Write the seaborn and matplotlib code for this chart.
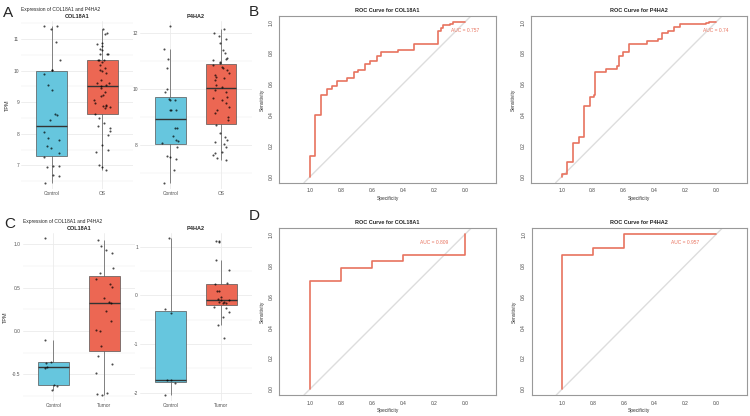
import numpy as np
import pandas as pd
import seaborn as sns
import matplotlib.pyplot as plt
from matplotlib.ticker import MultipleLocator

W, H = 750, 416

# ---- expression values (TPM) ----
a_col_control = [11.41, 11.41, 11.32, 10.92, 10.34, 10.02, 10.02, 9.89, 9.54, 9.39, 8.63, 8.59, 8.44,
                 8.04, 7.86, 7.80, 7.62, 7.54, 7.38, 7.25, 6.98, 6.98, 6.96, 6.70, 6.66, 6.45]
a_col_os = [11.32, 11.18, 11.15, 10.86, 10.83, 10.79, 10.67, 10.65, 10.54, 10.53, 10.51, 10.35, 10.34,
            10.34, 10.28, 10.18, 10.07, 10.02, 9.99, 9.93, 9.70, 9.60, 9.60, 9.54, 9.51, 9.44, 9.33,
            9.23, 9.18, 9.07, 8.96, 8.91, 8.88, 8.88, 8.86, 8.81, 8.62, 8.50, 8.35, 8.25, 8.17, 8.10,
            7.96, 7.65, 7.49, 7.43, 7.01, 6.96, 6.85]
a_p4_control = [12.26, 11.43, 11.07, 10.77, 10.0, 9.92, 9.65, 9.62, 9.62, 9.26, 9.26, 9.26, 8.63,
                8.61, 8.33, 8.19, 8.17, 8.07, 7.95, 7.63, 7.57, 7.50, 7.12, 6.67]
a_p4_os = [12.14, 12.0, 11.92, 11.79, 11.67, 11.40, 11.29, 11.11, 11.07, 11.05, 10.99, 10.93, 10.87,
           10.81, 10.75, 10.69, 10.60, 10.51, 10.45, 10.39, 10.33, 10.15, 10.10, 9.98, 9.92, 9.74,
           9.68, 9.62, 9.50, 9.38, 9.26, 9.14, 9.02, 8.90, 8.73, 8.43, 8.29, 8.19, 8.13, 8.05, 7.95,
           7.77, 7.71, 7.65, 7.54, 7.48]

c_col_control = [1.07, -0.10, -0.36, -0.37, -0.42, -0.43, -0.62, -0.63, -0.68]
c_col_tumor = [1.05, 0.985, 0.935, 0.904, 0.73, 0.673, 0.60, 0.54, 0.51, 0.38, 0.33, 0.327, 0.23,
               0.115, 0.012, 0.004, -0.169, -0.288, -0.38, -0.48, -0.72, -0.73, -0.74]
c_p4_control = [1.17, -0.29, -0.37, -1.73, -1.74, -1.81, -2.05]
c_p4_tumor = [1.12, 1.12, 1.10, 0.73, 0.52, 0.25, 0.23, 0.09, 0.09, -0.03, -0.08, -0.09, -0.10,
              -0.14, -0.14, -0.15, -0.16, -0.23, -0.25, -0.35, -0.45, -0.61, -0.88]

# ---- ROC curves (specificity, sensitivity) ----
b_col_spec = [1.0, 1.0, 0.968, 0.93, 0.89, 0.856, 0.824, 0.763, 0.714, 0.692, 0.645, 0.613, 0.57,
              0.54, 0.43, 0.327, 0.176, 0.155, 0.14, 0.095, 0.075, 0.0]
b_col_sens = [0.0, 0.13, 0.40, 0.53, 0.566, 0.587, 0.622, 0.637, 0.68, 0.69, 0.728, 0.75, 0.784,
              0.806, 0.82, 0.86, 0.946, 0.965, 0.983, 0.99, 1.0, 1.0]
b_p4_spec = [1.0, 1.0, 0.964, 0.927, 0.89, 0.857, 0.818, 0.79, 0.782, 0.711, 0.642, 0.632, 0.606,
             0.561, 0.45, 0.375, 0.347, 0.31, 0.272, 0.236, 0.064, 0.047, 0.0]
b_p4_sens = [0.0, 0.017, 0.093, 0.22, 0.259, 0.458, 0.514, 0.53, 0.68, 0.695, 0.713, 0.784, 0.806,
             0.86, 0.875, 0.892, 0.929, 0.946, 0.968, 0.985, 0.993, 1.0, 1.0]
d_col_spec = [1.0, 1.0, 0.8, 0.6, 0.4, 0.0]
d_col_sens = [0.0, 0.696, 0.783, 0.826, 0.870, 1.0]
d_p4_spec = [1.0, 1.0, 0.8, 0.6, 0.0]
d_p4_sens = [0.0, 0.870, 0.913, 1.0, 1.0]

BLUE = "#66C6DE"
RED = "#EC6753"
ROC_RED = "#E8735F"
GRID = "#EBEBEB"

np.random.seed(7)  # fixed horizontal jitter
sns.set_theme(style="white")
plt.rcParams["font.family"] = ["Liberation Sans", "DejaVu Sans"]

fig = plt.figure(figsize=(7.5, 4.16), dpi=100)


def px_axes(left, top, right, bottom):
    return fig.add_axes([left / W, 1 - bottom / H, (right - left) / W, (bottom - top) / H])


def box_panel(ax, groups, values, title, ylim, major, minor, fmt, ylabel=None):
    df = pd.DataFrame({"group": np.repeat(groups, [len(v) for v in values]),
                       "tpm": np.concatenate(values)})
    sns.boxplot(data=df, x="group", y="tpm", hue="group", palette=[BLUE, RED], width=0.6,
                saturation=1, showfliers=False, showcaps=False, linewidth=0.5,
                linecolor="#555555", legend=False,
                medianprops={"color": "#333333", "linewidth": 1.0}, ax=ax)
    sns.stripplot(data=df, x="group", y="tpm", color="black", size=1.5, alpha=0.7,
                  jitter=0.17, linewidth=0, ax=ax)
    ax.set_xlim(-0.6, 1.6)
    ax.set_ylim(*ylim)
    ax.yaxis.set_major_locator(MultipleLocator(major))
    ax.yaxis.set_minor_locator(MultipleLocator(minor))
    ax.yaxis.set_major_formatter(fmt)
    ax.grid(True, which="major", color=GRID, lw=0.6)
    ax.grid(True, which="minor", axis="y", color=GRID, lw=0.35)
    ax.set_axisbelow(True)
    for s in ax.spines.values():
        s.set_visible(False)
    ax.tick_params(which="both", length=0, labelsize=3.5, labelcolor="#555555", pad=1.5)
    ax.set_xlabel("")
    ax.set_ylabel(ylabel if ylabel else "", fontsize=4, color="#333333", labelpad=3)
    ax.set_title(title, fontsize=4, fontweight="bold", pad=2)


def roc_panel(ax, spec, sens, title, auc_text, auc_x):
    sns.lineplot(x=spec, y=sens, sort=False, estimator=None, color=ROC_RED, lw=1.2,
                 drawstyle="steps-post", ax=ax)
    ax.axline((1, 0), (0, 1), color="#DDDDDD", lw=1, zorder=0)
    ax.set_xlim(1.2, -0.2)
    ax.set_ylim(-0.04, 1.04)
    ticks = [1.0, 0.8, 0.6, 0.4, 0.2, 0.0]
    ax.set_xticks(ticks)
    ax.set_xticklabels([f"{t:.1f}" for t in ticks])
    ax.set_yticks(ticks)
    ax.set_yticklabels([f"{t:.1f}" for t in ticks], rotation=90, va="center")
    ax.tick_params(length=2, width=0.5, color="#888888", labelsize=3.5, labelcolor="#444444", pad=2)
    for s in ax.spines.values():
        s.set_color("#999999")
        s.set_linewidth(0.8)
    ax.set_xlabel("Specificity", fontsize=3.5, labelpad=2, color="#333333")
    ax.set_ylabel("Sensitivity", fontsize=3.5, labelpad=3, color="#333333")
    ax.set_title(title, fontsize=4, fontweight="bold", pad=3)
    ax.text(auc_x, 0.947, auc_text, color=ROC_RED, fontsize=3.5, ha="center", va="center")


int_fmt = lambda v, p: f"{v:.0f}"
one_fmt = lambda v, p: f"{v:.1f}"

# Panel A
box_panel(px_axes(21.3, 21, 132.7, 189), ["Control", "OS"], [a_col_control, a_col_os], "COL18A1",
          (6.25, 11.57), 1, 0.5, int_fmt, "TPM")
box_panel(px_axes(140, 21, 251.5, 189), ["Control", "OS"], [a_p4_control, a_p4_os], "P4HA2",
          (6.44, 12.44), 2, 1, int_fmt)
# Panel C
box_panel(px_axes(22.7, 233, 135, 401), ["Control", "Tumor"], [c_col_control, c_col_tumor], "COL18A1",
          (-0.808, 1.13), 0.5, 0.25, one_fmt, "TPM")
box_panel(px_axes(140, 233, 252, 401), ["Control", "Tumor"], [c_p4_control, c_p4_tumor], "P4HA2",
          (-2.17, 1.28), 1, 0.5, int_fmt)

# Panel B / D
roc_panel(px_axes(279.3, 16, 495.7, 182.7), b_col_spec, b_col_sens, "ROC Curve for COL18A1", "AUC = 0.757", 0.0)
roc_panel(px_axes(531, 16, 746.7, 182.7), b_p4_spec, b_p4_sens, "ROC Curve for P4HA2", "AUC = 0.74", 0.0)
roc_panel(px_axes(279.3, 228.3, 495.7, 395), d_col_spec, d_col_sens, "ROC Curve for COL18A1", "AUC = 0.809", 0.2)
roc_panel(px_axes(531.7, 228.3, 746.7, 395), d_p4_spec, d_p4_sens, "ROC Curve for P4HA2", "AUC = 0.957", 0.2)

# titles and panel letters
fig.text(20.7 / W, 1 - 10 / H, "Expression of COL18A1 and P4HA2", fontsize=3.5, va="center")
fig.text(22.7 / W, 1 - 221 / H, "Expression of COL18A1 and P4HA2", fontsize=3.5, va="center")
for letter, x, y in [("A", 3, 13), ("B", 249, 12.5), ("C", 4, 224), ("D", 249, 216.5)]:
    fig.text(x / W, 1 - y / H, letter, fontsize=11, va="center", ha="left")

fig.savefig("out.png", dpi=100)
